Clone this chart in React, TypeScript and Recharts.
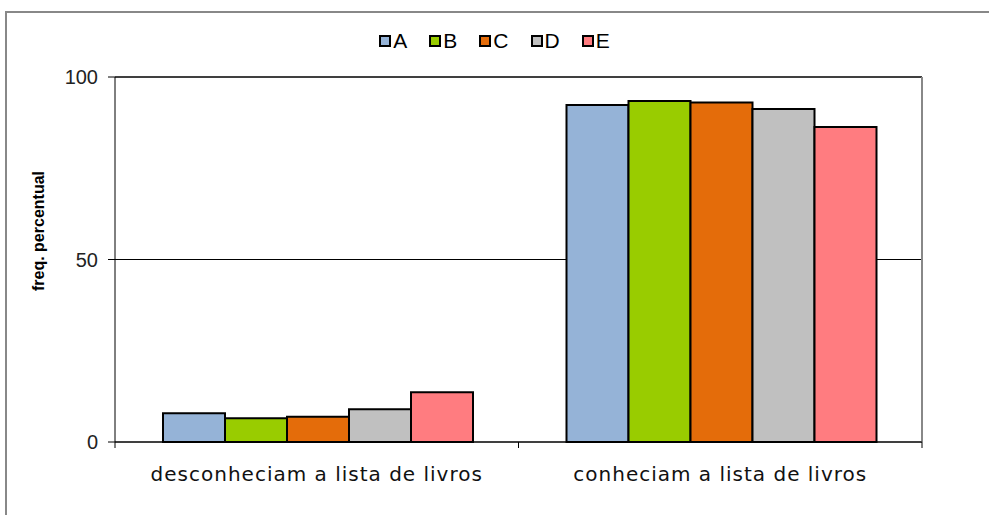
import { Bar, BarChart, CartesianGrid, XAxis, YAxis, usePlotArea } from "recharts";

const categories = ["desconheciam a lista de livros", "conheciam a lista de livros"];
const seriesNames = ["A", "B", "C", "D", "E"];
const seriesColors = ["#95B3D7", "#99CC00", "#E46C0A", "#C0C0C0", "#FF7C80"];
const valuesA = [7.9, 92.3];
const valuesB = [6.5, 93.4];
const valuesC = [6.9, 93.0];
const valuesD = [9.0, 91.2];
const valuesE = [13.6, 86.3];
const yTicks = [0, 50, 100];

const seriesValues = [valuesA, valuesB, valuesC, valuesD, valuesE];
const data = categories.map((name, i) => {
	const row: Record<string, string | number> = { name };
	seriesNames.forEach((s, j) => {
		row[s] = seriesValues[j][i];
	});
	return row;
});

// plot frame + tick marks at category boundaries
function PlotFrame() {
	const area = usePlotArea();
	if (!area) return null;
	const { x, y, width, height } = area;
	const n = categories.length;
	return (
		<g>
			<line x1={x} y1={y} x2={x + width} y2={y} stroke="#000" strokeWidth={1} />
			<line x1={x + width} y1={y} x2={x + width} y2={y + height} stroke="#888" strokeWidth={2} />
			{Array.from({ length: n + 1 }, (_, i) => (
				<line
					key={i}
					x1={x + (width * i) / n}
					x2={x + (width * i) / n}
					y1={y + height}
					y2={y + height + 6}
					stroke="#000"
				/>
			))}
		</g>
	);
}

function ChartLegend() {
	return (
		<div
			style={{
				position: "absolute",
				left: 0,
				width: 989,
				top: 29,
				display: "flex",
				justifyContent: "center",
				fontFamily: "Liberation Sans, Arial",
				fontSize: 21,
				lineHeight: "24px",
				color: "#000",
			}}
		>
			{seriesNames.map((s, i) => (
				<div key={s} style={{ display: "flex", alignItems: "center", marginRight: i < seriesNames.length - 1 ? 22 : 0 }}>
					<span
						style={{
							display: "inline-block",
							width: 8,
							height: 8,
							background: seriesColors[i],
							border: "2px solid #000",
							marginRight: 2,
						}}
					/>
					<span>{s}</span>
				</div>
			))}
		</div>
	);
}

export default function App() {
	return (
		<div style={{ position: "fixed", left: 0, top: 0, width: 989, height: 515, overflow: "hidden", background: "#fff" }}>
			<ChartLegend />
			<div style={{ position: "absolute", left: 0, top: 0 }}>
				<BarChart
					width={989}
					height={515}
					data={data}
					margin={{ top: 77, right: 67, left: 55, bottom: 33 }}
					barCategoryGap={48}
					barGap={0}
				>
					{/* outer chart border */}
					<rect x={6} y={12} width={1000} height={600} fill="none" stroke="#888" strokeWidth={2} />
					<CartesianGrid horizontal vertical={false} stroke="#000" strokeWidth={1} />
					<XAxis
						dataKey="name"
						height={40}
						tickLine={false}
						axisLine={{ stroke: "#000" }}
						tick={{ fill: "#111", fontSize: 20, fontFamily: "DejaVu Sans", letterSpacing: 1 }}
						tickMargin={19}
					/>
					<YAxis
						width={60}
						domain={[0, 100]}
						ticks={yTicks}
						axisLine={{ stroke: "#000" }}
						tickLine={{ stroke: "#000" }}
						tickSize={7}
						tickMargin={10}
						tick={{ fill: "#222", fontSize: 20, fontFamily: "Liberation Sans, Arial" }}
					/>
					{seriesNames.map((s, i) => (
						<Bar key={s} dataKey={s} fill={seriesColors[i]} stroke="#000" strokeWidth={2} isAnimationActive={false} />
					))}
					<PlotFrame />
					<text
						x={38}
						y={231}
						transform="rotate(-90 38 231)"
						textAnchor="middle"
						dominantBaseline="central"
						fontWeight="bold"
						fontSize={16}
						fontFamily="Liberation Sans, Arial"
						fill="#000"
					>
						freq. percentual
					</text>
				</BarChart>
			</div>
		</div>
	);
}
